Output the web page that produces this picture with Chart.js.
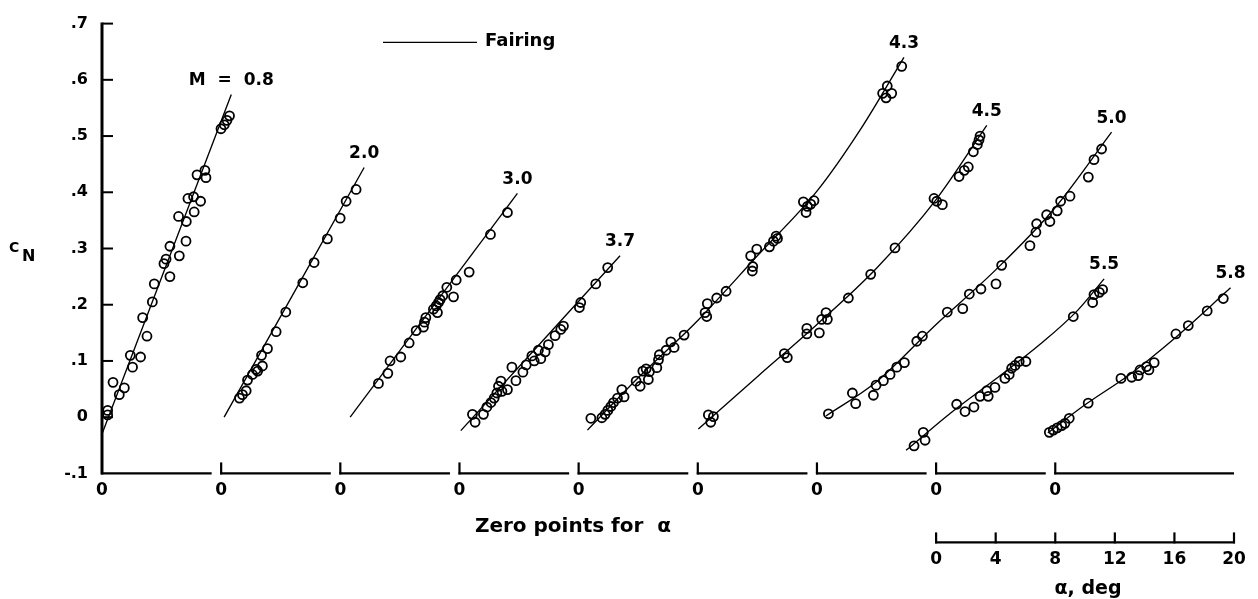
<!DOCTYPE html>
<html>
<head>
<meta charset="utf-8">
<title>Normal-force coefficient against angle of attack</title>
<script src="https://cdn.jsdelivr.net/npm/chart.js@4"></script>
<style>
  html, body { margin: 0; padding: 0; background: #fff; }
  canvas { display: block; }
</style>
</head>
<body>
<canvas id="chart" width="1258" height="599"></canvas>
<script>
// ---- data -----------------------------------------------------------------
// Each Mach number is plotted from its own zero point for alpha (deg).
const machLabels = ['M  =  0.8', '2.0', '3.0', '3.7', '4.3', '4.5', '5.0', '5.5', '5.8'];
const zeroPoints = [0, 8, 16, 24, 32, 40, 48, 56, 64];

// measured points: alpha (deg) and C_N
const alpha08 = [0.38, 0.38, 0.74, 1.16, 1.50, 1.90, 2.05, 2.59, 2.73, 3.02, 3.38, 3.51, 4.16, 4.30, 4.56, 4.56, 5.19, 5.14, 5.64, 5.66, 5.77, 6.15, 6.19, 6.62, 6.38, 6.91, 6.98, 7.99, 8.21, 8.39, 8.56];
const cn08    = [0.012, 0.004, 0.062, 0.040, 0.052, 0.110, 0.089, 0.107, 0.177, 0.144, 0.205, 0.237, 0.273, 0.281, 0.250, 0.304, 0.287, 0.357, 0.313, 0.348, 0.389, 0.392, 0.365, 0.384, 0.431, 0.439, 0.426, 0.513, 0.520, 0.528, 0.536];

const alpha20 = [1.23, 1.43, 1.68, 1.77, 2.10, 2.35, 2.45, 2.77, 2.71, 3.11, 3.69, 4.34, 5.48, 6.24, 7.13, 7.99, 8.39, 9.06];
const cn20    = [0.034, 0.040, 0.047, 0.066, 0.076, 0.085, 0.082, 0.091, 0.110, 0.122, 0.152, 0.187, 0.239, 0.275, 0.317, 0.354, 0.384, 0.405];

const alpha30 = [2.56, 3.19, 3.34, 4.06, 4.62, 5.09, 5.58, 5.65, 5.74, 6.25, 6.44, 6.52, 6.59, 6.70, 6.88, 7.15, 7.60, 7.78, 8.65, 10.08, 11.22];
const cn30    = [0.060, 0.078, 0.100, 0.107, 0.132, 0.154, 0.160, 0.169, 0.177, 0.192, 0.198, 0.186, 0.204, 0.209, 0.216, 0.231, 0.214, 0.244, 0.258, 0.325, 0.364];

const alpha37 = [0.87, 1.05, 1.61, 1.84, 2.11, 2.33, 2.51, 2.62, 2.78, 2.85, 3.22, 3.52, 3.79, 4.26, 4.48, 4.86, 5.02, 5.30, 5.46, 5.75, 5.97, 6.42, 6.80, 6.98, 8.05, 8.14, 9.15, 9.95];
const cn37    = [0.005, -0.009, 0.005, 0.018, 0.026, 0.034, 0.043, 0.055, 0.064, 0.046, 0.049, 0.089, 0.065, 0.080, 0.093, 0.109, 0.100, 0.119, 0.104, 0.116, 0.129, 0.145, 0.156, 0.162, 0.195, 0.204, 0.237, 0.266];

const alpha43 = [0.82, 1.56, 1.78, 1.96, 2.16, 2.34, 2.61, 2.90, 3.05, 3.86, 4.13, 4.31, 4.53, 4.68, 4.75, 5.25, 5.36, 5.42, 5.87, 6.19, 6.41, 7.08, 8.49, 8.60, 8.64, 9.27, 9.90, 11.55, 11.66, 11.69, 11.96, 12.81, 13.08, 13.26, 13.35, 15.09, 15.27, 15.36, 15.58, 15.80, 20.41, 20.64, 20.72, 21.02, 21.69];
const cn43    = [-0.002, -0.001, 0.005, 0.012, 0.019, 0.026, 0.034, 0.049, 0.036, 0.064, 0.055, 0.082, 0.086, 0.067, 0.081, 0.088, 0.102, 0.111, 0.119, 0.134, 0.124, 0.146, 0.186, 0.179, 0.202, 0.212, 0.224, 0.287, 0.260, 0.268, 0.299, 0.303, 0.313, 0.322, 0.318, 0.383, 0.364, 0.375, 0.379, 0.385, 0.576, 0.568, 0.589, 0.576, 0.624];

const alpha45 = [0.71, 1.05, 0.87, 5.81, 6.01, 7.32, 7.32, 8.16, 8.32, 8.61, 8.70, 10.11, 11.61, 13.24, 15.86, 16.04, 16.42, 17.54, 17.89, 18.16, 18.50, 18.77, 18.88, 18.95];
const cn45    = [0.004, 0.001, -0.009, 0.113, 0.106, 0.158, 0.148, 0.150, 0.174, 0.186, 0.174, 0.212, 0.254, 0.301, 0.389, 0.384, 0.378, 0.428, 0.439, 0.445, 0.472, 0.485, 0.493, 0.500];

const alpha50 = [0.77, 2.38, 2.60, 3.79, 3.97, 4.46, 4.91, 5.36, 5.87, 6.70, 7.08, 8.75, 9.79, 10.23, 11.01, 12.02, 12.40, 14.30, 14.70, 14.75, 15.42, 15.64, 16.13, 16.36, 16.99, 18.22, 18.60, 19.11];
const cn50    = [0.006, 0.043, 0.024, 0.039, 0.057, 0.065, 0.076, 0.089, 0.097, 0.135, 0.144, 0.187, 0.193, 0.219, 0.228, 0.237, 0.270, 0.305, 0.329, 0.344, 0.360, 0.348, 0.367, 0.384, 0.393, 0.427, 0.458, 0.477];

const alpha55 = [-1.48, -0.86, -0.74, 1.38, 1.94, 2.54, 2.95, 3.40, 3.50, 3.95, 4.62, 4.91, 5.07, 5.30, 5.58, 6.03, 9.21, 10.51, 10.60, 10.96, 11.18];
const cn55    = [-0.051, -0.027, -0.041, 0.023, 0.010, 0.018, 0.037, 0.047, 0.037, 0.053, 0.069, 0.076, 0.087, 0.092, 0.099, 0.099, 0.179, 0.204, 0.218, 0.222, 0.227];

const alpha58 = [-0.40, -0.13, 0.13, 0.43, 0.65, 0.94, 2.21, 4.41, 5.13, 5.57, 5.69, 6.13, 6.29, 6.64, 8.10, 8.93, 10.20, 11.28];
const cn58    = [-0.027, -0.023, -0.019, -0.015, -0.011, -0.002, 0.025, 0.069, 0.071, 0.074, 0.084, 0.090, 0.084, 0.097, 0.148, 0.163, 0.189, 0.211];

// faired curves through each set of points
const fair08Alpha = [0.0, 8.68];             const fair08CN = [-0.030, 0.574];
const fair20Alpha = [0.2, 9.6];              const fair20CN = [0.000, 0.444];
const fair30Alpha = [0.66, 11.89];           const fair30CN = [0.000, 0.398];
const fair37Alpha = [0.09, 10.78];           const fair37CN = [-0.024, 0.287];
const fair43Alpha = [0.59, 4, 8, 12, 16, 19, 21.84];   const fair43CN = [-0.023, 0.070, 0.172, 0.287, 0.402, 0.515, 0.640];
const fair45Alpha = [0.04, 4, 8, 12, 16, 19.4];        const fair45CN = [-0.021, 0.072, 0.165, 0.265, 0.387, 0.519];
const fair50Alpha = [0.6, 4, 8, 12, 16, 19.78];        const fair50CN = [0.002, 0.063, 0.165, 0.262, 0.373, 0.507];
const fair55Alpha = [-2.02, 1, 4, 7, 9.5, 11.28];      const fair55CN = [-0.059, 0.008, 0.068, 0.130, 0.190, 0.246];
const fair58Alpha = [-0.5, 2, 5, 8, 11.77];            const fair58CN = [-0.028, 0.022, 0.076, 0.140, 0.230];

// axis ticks
const yTickValues = [-0.1, 0, 0.1, 0.2, 0.3, 0.4, 0.5, 0.6, 0.7];
const yTickLabels = ['-.1', '0', '.1', '.2', '.3', '.4', '.5', '.6', '.7'];
const alphaTicks = [0, 4, 8, 12, 16, 20];
const alphaOrigin = 56;   // the alpha scale is drawn from this zero point
const xMax = 76;

// ---- build ------------------------------------------------------------------
const series = [
  { label: machLabels[0], a: alpha08, c: cn08, fa: fair08Alpha, fc: fair08CN },
  { label: machLabels[1], a: alpha20, c: cn20, fa: fair20Alpha, fc: fair20CN },
  { label: machLabels[2], a: alpha30, c: cn30, fa: fair30Alpha, fc: fair30CN },
  { label: machLabels[3], a: alpha37, c: cn37, fa: fair37Alpha, fc: fair37CN },
  { label: machLabels[4], a: alpha43, c: cn43, fa: fair43Alpha, fc: fair43CN },
  { label: machLabels[5], a: alpha45, c: cn45, fa: fair45Alpha, fc: fair45CN },
  { label: machLabels[6], a: alpha50, c: cn50, fa: fair50Alpha, fc: fair50CN },
  { label: machLabels[7], a: alpha55, c: cn55, fa: fair55Alpha, fc: fair55CN },
  { label: machLabels[8], a: alpha58, c: cn58, fa: fair58Alpha, fc: fair58CN }
];

const FONT = "'DejaVu Sans', 'Liberation Sans', sans-serif";
const INK = '#000';

const datasets = [];
series.forEach((s, i) => {
  const z = zeroPoints[i];
  datasets.push({
    label: s.label + ' fairing',
    data: s.fa.map((a, k) => ({ x: z + a, y: s.fc[k] })),
    showLine: true,
    borderColor: INK,
    borderWidth: 1.35,
    pointRadius: 0,
    cubicInterpolationMode: 'monotone',
    clip: false
  });
  datasets.push({
    label: s.label,
    data: s.a.map((a, k) => ({ x: z + a, y: s.c[k] })),
    showLine: false,
    pointStyle: 'circle',
    pointRadius: 4.5,
    pointBorderWidth: 1.8,
    borderColor: INK,
    pointBorderColor: INK,
    backgroundColor: 'rgba(0,0,0,0)',
    pointBackgroundColor: 'rgba(0,0,0,0)',
    clip: false
  });
});

function seg(ctx, x1, y1, x2, y2) {
  ctx.beginPath(); ctx.moveTo(x1, y1); ctx.lineTo(x2, y2); ctx.stroke();
}

// axes in the drafting style: segmented base line, inward ticks, extra alpha scale
const drafting = {
  id: 'drafting',
  afterDraw(chart) {
    const { ctx, chartArea: area, scales } = chart;
    const x = scales.x, x2 = scales.x2, y = scales.y;
    ctx.save();
    ctx.strokeStyle = INK;
    ctx.fillStyle = INK;
    ctx.lineCap = 'butt';

    const yTop = y.getPixelForValue(yTickValues[yTickValues.length - 1]);
    const yBase = y.getPixelForValue(yTickValues[0]);

    // vertical axis with inward ticks
    ctx.lineWidth = 3;
    seg(ctx, area.left, yTop - 1, area.left, yBase + 1);
    ctx.lineWidth = 2;
    yTickValues.slice(1).forEach(v => {
      const py = y.getPixelForValue(v);
      seg(ctx, area.left, py, area.left + 11, py);
    });

    // base line broken into one piece per zero point
    ctx.lineWidth = 2.2;
    zeroPoints.forEach((z, k) => {
      const x0 = x.getPixelForValue(z);
      const x1 = k < zeroPoints.length - 1 ? x.getPixelForValue(zeroPoints[k + 1]) - 9.5 : x.getPixelForValue(xMax);
      seg(ctx, x0 - 1, yBase, x1, yBase);
      if (k > 0) seg(ctx, x0, yBase + 1, x0, yBase - 11);
    });

    // alpha scale
    const ys = x2.top;
    const a0 = x2.getPixelForValue(alphaTicks[0]);
    const a1 = x2.getPixelForValue(alphaTicks[alphaTicks.length - 1]);
    ctx.lineWidth = 2.2;
    seg(ctx, a0 - 1, ys, a1 + 1, ys);
    alphaTicks.forEach(v => {
      const px = x2.getPixelForValue(v);
      seg(ctx, px, ys + 1, px, ys - 10);
    });

    // axis titles
    ctx.textBaseline = 'alphabetic';
    ctx.textAlign = 'left';
    const yMid = (y.top + y.bottom) / 2;
    ctx.font = `bold 14px ${FONT}`;
    ctx.fillText('C', 9, yMid + 3);
    ctx.font = `bold 16px ${FONT}`;
    ctx.fillText('N', 22, yMid + 12);

    ctx.textAlign = 'center';
    ctx.font = `bold 20px ${FONT}`;
    ctx.fillText('Zero points for  \u03b1', area.left + 471, x.top + 59);
    ctx.font = `bold 19px ${FONT}`;
    ctx.fillText('\u03b1, deg', (a0 + a1) / 2 + 3, 594);

    // key
    ctx.lineWidth = 1.35;
    seg(ctx, area.left + 281, 42.3, area.left + 375, 42.3);
    ctx.textAlign = 'left';
    ctx.textBaseline = 'middle';
    ctx.font = `bold 18px ${FONT}`;
    ctx.fillText('Fairing', area.left + 383, 41);

    // Mach number at the upper end of each fairing
    ctx.textAlign = 'center';
    ctx.font = `bold 17px ${FONT}`;
    series.forEach((s, i) => {
      const n = s.fa.length - 1;
      const px = x.getPixelForValue(zeroPoints[i] + s.fa[n]);
      const py = y.getPixelForValue(s.fc[n]);
      ctx.fillText(s.label, px, py - 14);
    });
    ctx.restore();
  }
};

const tickFont = { family: FONT, size: 17, weight: 'bold' };

new Chart(document.getElementById('chart'), {
  type: 'scatter',
  data: { datasets },
  options: {
    responsive: false,
    devicePixelRatio: 1,
    animation: false,
    events: [],
    layout: { padding: { top: 16.3, right: 24, bottom: 0, left: 0 } },
    plugins: { legend: { display: false }, tooltip: { enabled: false } },
    scales: {
      x: {
        type: 'linear',
        position: 'bottom',
        weight: 0,
        min: 0,
        max: xMax,
        afterBuildTicks: s => { s.ticks = zeroPoints.map(v => ({ value: v })); },
        afterFit: s => { s.height = 69; },
        ticks: { callback: () => '0', font: tickFont, color: INK, padding: 7, maxRotation: 0, autoSkip: false },
        grid: { display: false, drawTicks: false },
        border: { display: false }
      },
      x2: {
        type: 'linear',
        position: 'bottom',
        weight: 1,
        min: -alphaOrigin,
        max: xMax - alphaOrigin,
        afterBuildTicks: s => { s.ticks = alphaTicks.map(v => ({ value: v })); },
        afterFit: s => { s.height = 56.6; },
        ticks: { callback: v => String(v), font: tickFont, color: INK, padding: 7, maxRotation: 0, autoSkip: false },
        grid: { display: false, drawTicks: false },
        border: { display: false }
      },
      y: {
        type: 'linear',
        position: 'left',
        min: -0.1,
        max: 0.7,
        afterBuildTicks: s => { s.ticks = yTickValues.map(v => ({ value: v })); },
        afterFit: s => { s.width = 102; },
        ticks: { callback: (v, i) => yTickLabels[i], font: { family: FONT, size: 16, weight: 'bold' }, color: INK, padding: 14 },
        grid: { display: false, drawTicks: false },
        border: { display: false }
      }
    }
  },
  plugins: [drafting]
});
</script>
</body>
</html>
